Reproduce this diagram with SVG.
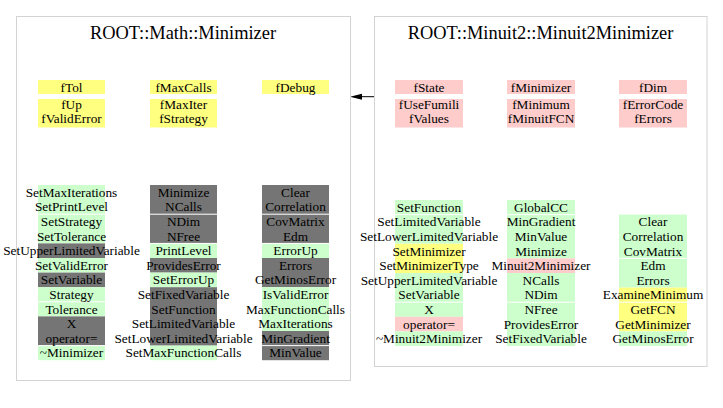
<svg xmlns="http://www.w3.org/2000/svg" width="723" height="408" viewBox="0 0 723 408">
<style>
.box{fill:#ffffff;stroke:#d3d3d3;stroke-width:1}
.g{fill:#ccffcc}.k{fill:#757575}.y{fill:#ffff80}.p{fill:#ffcccc}.w{fill:#ffffff}
text{font-size:13.3px;fill:#000;text-anchor:middle}
.title{font-size:18.4px}
</style>
<rect width="723" height="408" fill="#ffffff"/>
<g id="connectors">
<line x1="374" y1="96.7" x2="362" y2="96.7" stroke="#000" stroke-width="1"/>
<path d="M350,96.7 L362,93.7 L362,99.7 Z" fill="#000"/>
</g>
<g id="Minimizer" font-family="Liberation Serif, Times New Roman, DejaVu Serif, serif">
<rect class="box" x="16.5" y="16.5" width="334" height="364"/>
<text class="title" x="183" y="39.3">ROOT::Math::Minimizer</text>
<rect class="y" x="38" y="80" width="67" height="14"/>
<rect class="y" x="38" y="99" width="67" height="28.5"/>
<rect class="y" x="150" y="80" width="67" height="14"/>
<rect class="y" x="150" y="99" width="67" height="28.5"/>
<rect class="y" x="262" y="80" width="67" height="14"/>
<text x="71.5" y="91.7">fTol</text>
<text x="71.5" y="109.2">fUp</text>
<text x="71.5" y="123.4">fValidError</text>
<text x="183.5" y="91.7">fMaxCalls</text>
<text x="183.5" y="109.2">fMaxIter</text>
<text x="183.5" y="123.4">fStrategy</text>
<text x="295.5" y="91.7">fDebug</text>
<rect class="g" x="38" y="185" width="67" height="58.4"/>
<rect class="k" x="38" y="243.4" width="67" height="14.6"/>
<rect class="g" x="38" y="258" width="67" height="14.6"/>
<rect class="k" x="38" y="272.6" width="67" height="14.6"/>
<rect class="g" x="38" y="287.2" width="67" height="29.2"/>
<rect class="k" x="38" y="316.4" width="67" height="29.2"/>
<rect class="g" x="38" y="345.6" width="67" height="14.6"/>
<rect class="w" x="38" y="213.7" width="67" height="1"/>
<rect class="w" x="38" y="301.3" width="67" height="1"/>
<rect class="w" x="38" y="345.1" width="67" height="1"/>
<text x="71.5" y="196.8">SetMaxIterations</text>
<text x="71.5" y="211.4">SetPrintLevel</text>
<text x="71.5" y="226">SetStrategy</text>
<text x="71.5" y="240.6">SetTolerance</text>
<text x="71.5" y="255.2">SetUpperLimitedVariable</text>
<text x="71.5" y="269.8">SetValidError</text>
<text x="71.5" y="284.4">SetVariable</text>
<text x="71.5" y="299">Strategy</text>
<text x="71.5" y="313.6">Tolerance</text>
<text x="71.5" y="328.2">X</text>
<text x="71.5" y="342.8">operator=</text>
<text x="71.5" y="357.4">~Minimizer</text>
<rect class="k" x="150" y="185" width="67" height="58.4"/>
<rect class="g" x="150" y="243.4" width="67" height="14.6"/>
<rect class="k" x="150" y="258" width="67" height="14.6"/>
<rect class="g" x="150" y="272.6" width="67" height="14.6"/>
<rect class="k" x="150" y="287.2" width="67" height="58.4"/>
<rect class="g" x="150" y="345.6" width="67" height="14.6"/>
<rect class="w" x="150" y="213.7" width="67" height="1"/>
<rect class="w" x="150" y="242.9" width="67" height="1"/>
<text x="183.5" y="196.8">Minimize</text>
<text x="183.5" y="211.4">NCalls</text>
<text x="183.5" y="226">NDim</text>
<text x="183.5" y="240.6">NFree</text>
<text x="183.5" y="255.2">PrintLevel</text>
<text x="183.5" y="269.8">ProvidesError</text>
<text x="183.5" y="284.4">SetErrorUp</text>
<text x="183.5" y="299">SetFixedVariable</text>
<text x="183.5" y="313.6">SetFunction</text>
<text x="183.5" y="328.2">SetLimitedVariable</text>
<text x="183.5" y="342.8">SetLowerLimitedVariable</text>
<text x="183.5" y="357.4">SetMaxFunctionCalls</text>
<rect class="k" x="262" y="185" width="67" height="58.4"/>
<rect class="g" x="262" y="243.4" width="67" height="14.6"/>
<rect class="k" x="262" y="258" width="67" height="29.2"/>
<rect class="g" x="262" y="287.2" width="67" height="43.8"/>
<rect class="k" x="262" y="331" width="67" height="29.2"/>
<rect class="w" x="262" y="213.7" width="67" height="1"/>
<rect class="w" x="262" y="242.9" width="67" height="1"/>
<rect class="w" x="262" y="345.1" width="67" height="1"/>
<text x="295.5" y="196.8">Clear</text>
<text x="295.5" y="211.4">Correlation</text>
<text x="295.5" y="226">CovMatrix</text>
<text x="295.5" y="240.6">Edm</text>
<text x="295.5" y="255.2">ErrorUp</text>
<text x="295.5" y="269.8">Errors</text>
<text x="295.5" y="284.4">GetMinosError</text>
<text x="295.5" y="299">IsValidError</text>
<text x="295.5" y="313.6">MaxFunctionCalls</text>
<text x="295.5" y="328.2">MaxIterations</text>
<text x="295.5" y="342.8">MinGradient</text>
<text x="295.5" y="357.4">MinValue</text>
</g>
<g id="Minuit2Minimizer" font-family="Liberation Serif, Times New Roman, DejaVu Serif, serif">
<rect class="box" x="374.5" y="16.5" width="332.5" height="350"/>
<text class="title" x="540.5" y="39.3">ROOT::Minuit2::Minuit2Minimizer</text>
<rect class="p" x="395" y="80" width="68" height="14"/>
<rect class="p" x="395" y="99" width="68" height="28.5"/>
<rect class="p" x="507" y="80" width="68" height="14"/>
<rect class="p" x="507" y="99" width="68" height="28.5"/>
<rect class="p" x="619" y="80" width="68" height="14"/>
<rect class="p" x="619" y="99" width="68" height="28.5"/>
<text x="429" y="91.7">fState</text>
<text x="429" y="109.2">fUseFumili</text>
<text x="429" y="123.4">fValues</text>
<text x="541" y="91.7">fMinimizer</text>
<text x="541" y="109.2">fMinimum</text>
<text x="541" y="123.4">fMinuitFCN</text>
<text x="653" y="91.7">fDim</text>
<text x="653" y="109.2">fErrorCode</text>
<text x="653" y="123.4">fErrors</text>
<rect class="g" x="395" y="200" width="68" height="43.8"/>
<rect class="y" x="395" y="243.8" width="68" height="29.2"/>
<rect class="g" x="395" y="273" width="68" height="43.8"/>
<rect class="p" x="395" y="316.8" width="68" height="14.6"/>
<rect class="g" x="395" y="331.4" width="68" height="14.6"/>
<rect class="w" x="395" y="214.1" width="68" height="1"/>
<rect class="w" x="395" y="301.7" width="68" height="1"/>
<text x="429" y="211.8">SetFunction</text>
<text x="429" y="226.4">SetLimitedVariable</text>
<text x="429" y="241">SetLowerLimitedVariable</text>
<text x="429" y="255.6">SetMinimizer</text>
<text x="429" y="270.2">SetMinimizerType</text>
<text x="429" y="284.8">SetUpperLimitedVariable</text>
<text x="429" y="299.4">SetVariable</text>
<text x="429" y="314">X</text>
<text x="429" y="328.6">operator=</text>
<text x="429" y="343.2">~Minuit2Minimizer</text>
<rect class="g" x="507" y="200" width="68" height="58.4"/>
<rect class="p" x="507" y="258.4" width="68" height="14.6"/>
<rect class="g" x="507" y="273" width="68" height="73"/>
<rect class="w" x="507" y="214.1" width="68" height="1"/>
<rect class="w" x="507" y="301.7" width="68" height="1"/>
<text x="541" y="211.8">GlobalCC</text>
<text x="541" y="226.4">MinGradient</text>
<text x="541" y="241">MinValue</text>
<text x="541" y="255.6">Minimize</text>
<text x="541" y="270.2">Minuit2Minimizer</text>
<text x="541" y="284.8">NCalls</text>
<text x="541" y="299.4">NDim</text>
<text x="541" y="314">NFree</text>
<text x="541" y="328.6">ProvidesError</text>
<text x="541" y="343.2">SetFixedVariable</text>
<rect class="g" x="619" y="214.6" width="68" height="73"/>
<rect class="y" x="619" y="287.6" width="68" height="43.8"/>
<rect class="g" x="619" y="331.4" width="68" height="14.6"/>
<rect class="w" x="619" y="257.9" width="68" height="1"/>
<rect class="w" x="619" y="301.7" width="68" height="1"/>
<text x="653" y="226.4">Clear</text>
<text x="653" y="241">Correlation</text>
<text x="653" y="255.6">CovMatrix</text>
<text x="653" y="270.2">Edm</text>
<text x="653" y="284.8">Errors</text>
<text x="653" y="299.4">ExamineMinimum</text>
<text x="653" y="314">GetFCN</text>
<text x="653" y="328.6">GetMinimizer</text>
<text x="653" y="343.2">GetMinosError</text>
</g>
</svg>
